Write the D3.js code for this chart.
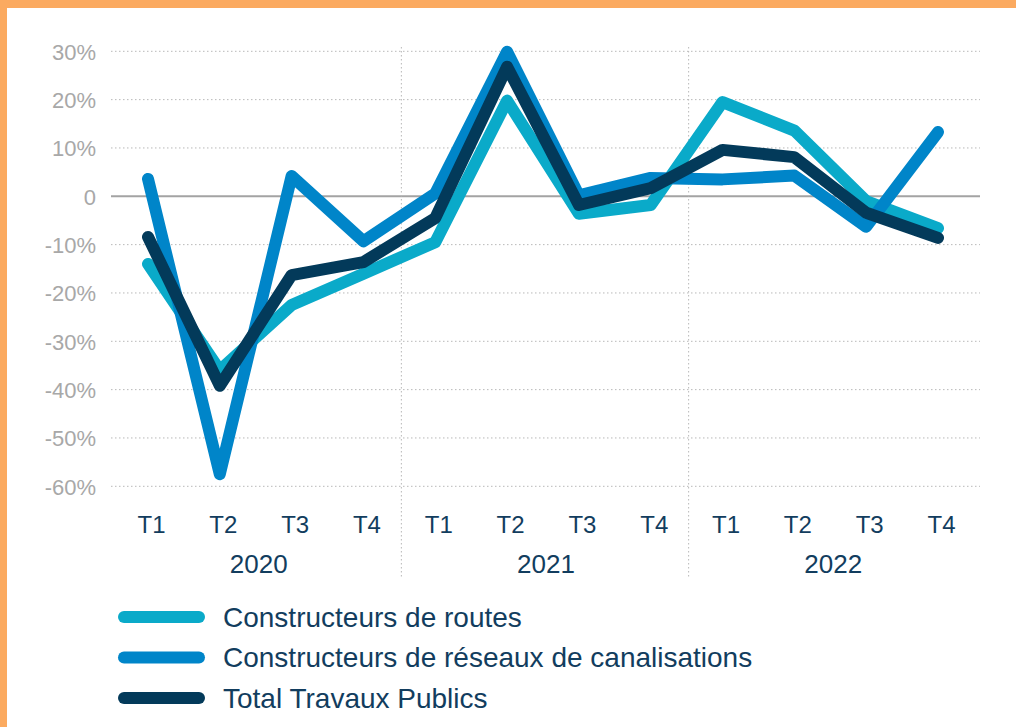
<!DOCTYPE html>
<html>
<head>
<meta charset="utf-8">
<script src="https://cdn.jsdelivr.net/npm/d3@7"></script>
<style>
  html, body { margin: 0; padding: 0; background: #fff; }
  svg { display: block; }
</style>
</head>
<body>
<svg id="chart" width="1016" height="727"></svg>
<script>
const quarters = ["T1","T2","T3","T4","T1","T2","T3","T4","T1","T2","T3","T4"];
const years = ["2020","2021","2022"];
const yTicks = [30,20,10,0,-10,-20,-30,-40,-50,-60];
const yTickLabels = ["30%","20%","10%","0","-10%","-20%","-30%","-40%","-50%","-60%"];

const routes   = [-14, -36, -22.5, -16, -9.5, 19.8, -3.6, -1.8, 19.5, 13.6, -1, -6.6];
const reseaux  = [3.6, -57.5, 4.2, -9.3, 0.6, 29.9, 0.2, 3.8, 3.5, 4.3, -6.3, 13.3];
const total    = [-8.4, -39.2, -16.3, -13.6, -4.5, 26.8, -1.8, 1.7, 9.6, 8.1, -3.4, -8.6];

const seriesNames = ["Constructeurs de routes", "Constructeurs de réseaux de canalisations", "Total Travaux Publics"];
const seriesColors = ["#0aaac9", "#0085c9", "#033a5a"];
const seriesValues = [routes, reseaux, total];

const svg = d3.select("#chart");

// orange frame
svg.append("rect").attr("x",0).attr("y",0).attr("width",1016).attr("height",8).attr("fill","#fbaa60");
svg.append("rect").attr("x",0).attr("y",0).attr("width",7).attr("height",727).attr("fill","#fbaa60");

const plotLeft = 111, plotRight = 980;
const x = d3.scalePoint().domain(d3.range(quarters.length)).range([148, 938]);
const y = d3.scaleLinear().domain([-60, 30]).range([486.3, 51.3]);

// horizontal grid
const g = svg.append("g");
g.selectAll("line.h").data(yTicks).join("line")
  .attr("x1", plotLeft).attr("x2", plotRight)
  .attr("y1", d => y(d)).attr("y2", d => y(d))
  .attr("stroke", d => d === 0 ? "#a3a3a3" : "#b8b8b8")
  .attr("stroke-width", d => d === 0 ? 2 : 1)
  .attr("stroke-dasharray", d => d === 0 ? null : "1.5,2.5");

// vertical year separators
const step = x.step();
const seps = [4, 8];
g.selectAll("line.v").data(seps).join("line")
  .attr("x1", d => x(d) - step/2 + 2).attr("x2", d => x(d) - step/2 + 2)
  .attr("y1", 47).attr("y2", 578)
  .attr("stroke", "#b8b8b8").attr("stroke-width", 1)
  .attr("stroke-dasharray", "1.5,2.5");

// y labels
const yAxis = d3.axisLeft(y).tickValues(yTicks).tickSize(0).tickPadding(0)
  .tickFormat((d,i) => yTickLabels[i]);
const ya = svg.append("g").attr("transform", "translate(96,0)").call(yAxis);
ya.select(".domain").remove();
ya.selectAll("text")
  .attr("font-family", "'Liberation Sans', Arial, sans-serif")
  .attr("font-size", 22).attr("fill", "#a8a8a8").attr("dy", "0.36em");

// x labels
const xAxis = d3.axisBottom(x).tickSize(0).tickPadding(0).tickFormat(i => quarters[i]);
const xa = svg.append("g").attr("transform", "translate(3,0)").call(xAxis);
xa.select(".domain").remove();
xa.selectAll("text")
  .attr("y", 533).attr("dy", null)
  .attr("font-family", "'Liberation Sans', Arial, sans-serif")
  .attr("font-size", 24).attr("fill", "#123d5e");

svg.append("g").selectAll("text").data(years).join("text")
  .attr("x", (d,i) => (x(i*4+1) + x(i*4+2))/2 + 3)
  .attr("y", 573)
  .attr("text-anchor", "middle")
  .attr("font-family", "'Liberation Sans', Arial, sans-serif")
  .attr("font-size", 26).attr("fill", "#123d5e")
  .text(d => d);

// lines
const line = d3.line().x((d,i) => x(i)).y(d => y(d));
svg.append("g").selectAll("path").data(seriesValues).join("path")
  .attr("d", d => line(d))
  .attr("fill", "none")
  .attr("stroke", (d,i) => seriesColors[i])
  .attr("stroke-width", 12)
  .attr("stroke-linecap", "round")
  .attr("stroke-linejoin", "round");

// legend
const legend = svg.append("g");
const rows = legend.selectAll("g").data(seriesNames).join("g")
  .attr("transform", (d,i) => `translate(0,${617 + i*40.5})`);
rows.append("line")
  .attr("x1", 124).attr("x2", 199).attr("y1", 0).attr("y2", 0)
  .attr("stroke", (d,i) => seriesColors[i])
  .attr("stroke-width", 12).attr("stroke-linecap", "round");
rows.append("text")
  .attr("x", 223).attr("y", 9.5)
  .attr("font-family", "'Liberation Sans', Arial, sans-serif")
  .attr("font-size", 28).attr("fill", "#123d5e")
  .text(d => d);
</script>
</body>
</html>
